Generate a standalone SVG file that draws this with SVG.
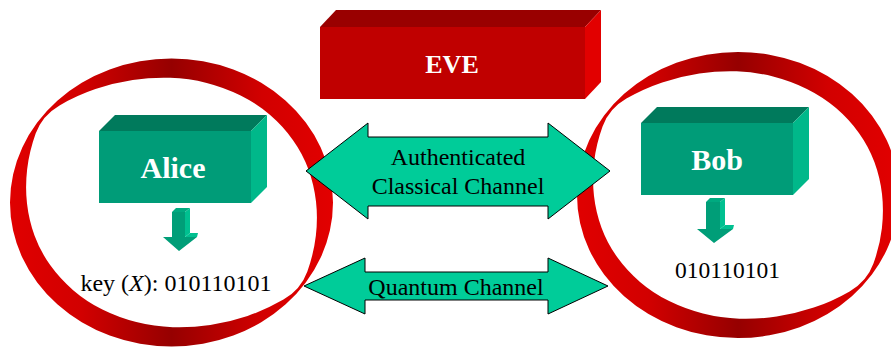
<svg xmlns="http://www.w3.org/2000/svg" width="891" height="347" viewBox="0 0 891 347">
  <defs>
    <linearGradient id="ringShade" x1="0" y1="0" x2="1" y2="0">
      <stop offset="0" stop-color="#e00000"/>
      <stop offset="0.22" stop-color="#d20000"/>
      <stop offset="0.5" stop-color="#960000"/>
      <stop offset="0.78" stop-color="#d20000"/>
      <stop offset="1" stop-color="#e20000"/>
    </linearGradient>
  </defs>
  <style>
    .ring { fill: url(#ringShade); fill-rule: evenodd; }
    .front { fill: #009c78; }
    .top { fill: #007a5c; }
    .side { fill: #00b88a; }
    .eve-front { fill: #c00000; }
    .eve-top { fill: #990000; }
    .eve-side { fill: #e20000; }
    .label { font-family: "Liberation Serif", "Times New Roman", serif; font-weight: bold; fill: #ffffff; text-anchor: middle; }
    .txt { font-family: "Liberation Serif", "Times New Roman", serif; fill: #000000; text-anchor: middle; font-size: 24px; }
    .chan { fill: #00cc99; stroke: #000000; stroke-width: 1; stroke-linejoin: miter; }
    .darr-front { fill: #009e78; }
    .darr-side { fill: #00c090; }
    .darr-top { fill: #00aa80; }
  </style>

  <!-- Alice: twisted ribbon ring, box, key arrow and key -->
  <g id="alice">
    <path class="ring" d="M10,202.5 A161.5,144 0 1 0 333,202.5 A161.5,144 0 1 0 10,202.5 Z
      M307.35,271.45 Q300.9,289.5 283.45,299.6 Q266.0,309.7 247.55,315.95 Q229.1,322.2 210.3,325.0
      Q191.5,327.8 172.8,327.2 Q154.1,326.6 136.3,322.05 Q118.5,317.5 102.4,309.5 Q86.3,301.5 73.15,290.15
      Q60.0,278.8 50.15,265.05 Q40.3,251.3 34.6,235.7 Q28.9,220.1 27.0,203.4 Q25.1,186.7 27.15,169.15
      Q29.2,151.6 35.65,133.55 Q42.1,115.5 59.55,105.4 Q77.0,95.3 95.45,89.05 Q113.9,82.8 132.7,80.0
      Q151.5,77.2 170.2,77.8 Q188.9,78.4 206.7,82.95 Q224.5,87.5 240.6,95.5 Q256.7,103.5 269.85,114.85
      Q283.0,126.2 292.85,139.95 Q302.7,153.7 308.4,169.3 Q314.1,184.9 316.0,201.6 Q317.9,218.3 315.85,235.85
      Q313.8,253.4 307.35,271.45 Z"/>
    <polygon class="top" points="99,131 115,115 267,115 251,131"/>
    <polygon class="side" points="251,131 267,115 267,187 251,203"/>
    <rect class="front" x="99" y="131" width="152" height="72"/>
    <text class="label" x="173" y="178" font-size="30">Alice</text>
    <g id="alice-key-arrow">
      <polygon class="darr-top" points="172,212 176,208 190,208 185,212"/>
      <polygon class="darr-side" points="185,212 190,208 190,233 185,237"/>
      <polygon class="darr-front" points="172,212 185,212 185,237 197,237 179,251 163,237 172,237"/>
      <polygon class="darr-side" points="185,237 190,233 198,233 197,237"/>
    </g>
    <text class="txt" x="176" y="291">key (<tspan font-style="italic">X</tspan>): 010110101</text>
  </g>

  <!-- Bob: twisted ribbon ring, box, key arrow and key -->
  <g id="bob">
    <path class="ring" d="M577,195 A161,143 0 1 0 899,195 A161,143 0 1 0 577,195 Z
      M873.45,263.5 Q867.0,281.4 849.6,291.4 Q832.2,301.4 813.8,307.55 Q795.4,313.7 776.7,316.5
      Q758.0,319.3 739.35,318.7 Q720.7,318.1 702.95,313.55 Q685.2,309.0 669.15,301.1 Q653.1,293.2 640.0,281.95
      Q626.9,270.7 617.1,257.05 Q607.3,243.4 601.6,227.95 Q595.9,212.5 594.0,195.9 Q592.1,179.3 594.1,161.85
      Q596.1,144.4 602.55,126.5 Q609.0,108.6 626.4,98.6 Q643.8,88.6 662.2,82.45 Q680.6,76.3 699.3,73.5
      Q718.0,70.7 736.65,71.3 Q755.3,71.9 773.05,76.45 Q790.8,81.0 806.85,88.9 Q822.9,96.8 836.0,108.05
      Q849.1,119.3 858.9,132.95 Q868.7,146.6 874.4,162.05 Q880.1,177.5 882.0,194.1 Q883.9,210.7 881.9,228.15
      Q879.9,245.6 873.45,263.5 Z"/>
    <polygon class="top" points="641,123 657,107 809,107 793,123"/>
    <polygon class="side" points="793,123 809,107 809,179 793,195"/>
    <rect class="front" x="641" y="123" width="152" height="72"/>
    <text class="label" x="717" y="170" font-size="30">Bob</text>
    <g id="bob-key-arrow">
      <polygon class="darr-top" points="706,202 710,198 725,198 720,202"/>
      <polygon class="darr-side" points="720,202 725,198 725,225 720,229"/>
      <polygon class="darr-front" points="706,202 720,202 720,229 733,229 714,243 697,229 706,229"/>
      <polygon class="darr-side" points="720,229 725,225 734,225 733,229"/>
    </g>
    <text class="txt" x="727.5" y="278" style="font-size:23.5px">010110101</text>
  </g>

  <!-- Eve -->
  <g id="eve">
    <polygon class="eve-top" points="320,27 336,10 601,10 585,27"/>
    <polygon class="eve-side" points="585,27 601,10 601,82 585,99"/>
    <rect class="eve-front" x="320" y="27" width="265" height="72"/>
    <text class="label" x="452" y="73" font-size="26">EVE</text>
  </g>

  <!-- Channels between Alice and Bob -->
  <g id="connectors">
    <g id="classical-channel">
      <polygon class="chan" points="306,171 368,123 368,137 548,137 548,123 610,171 548,219 548,206 368,206 368,219"/>
      <text class="txt" x="458" y="165">Authenticated</text>
      <text class="txt" x="458" y="194">Classical Channel</text>
    </g>
    <g id="quantum-channel">
      <polygon class="chan" points="304,286 365,258 365,272 548,272 548,258 608,286 548,314 548,300 365,300 365,314"/>
      <text class="txt" x="456" y="295">Quantum Channel</text>
    </g>
  </g>
</svg>
